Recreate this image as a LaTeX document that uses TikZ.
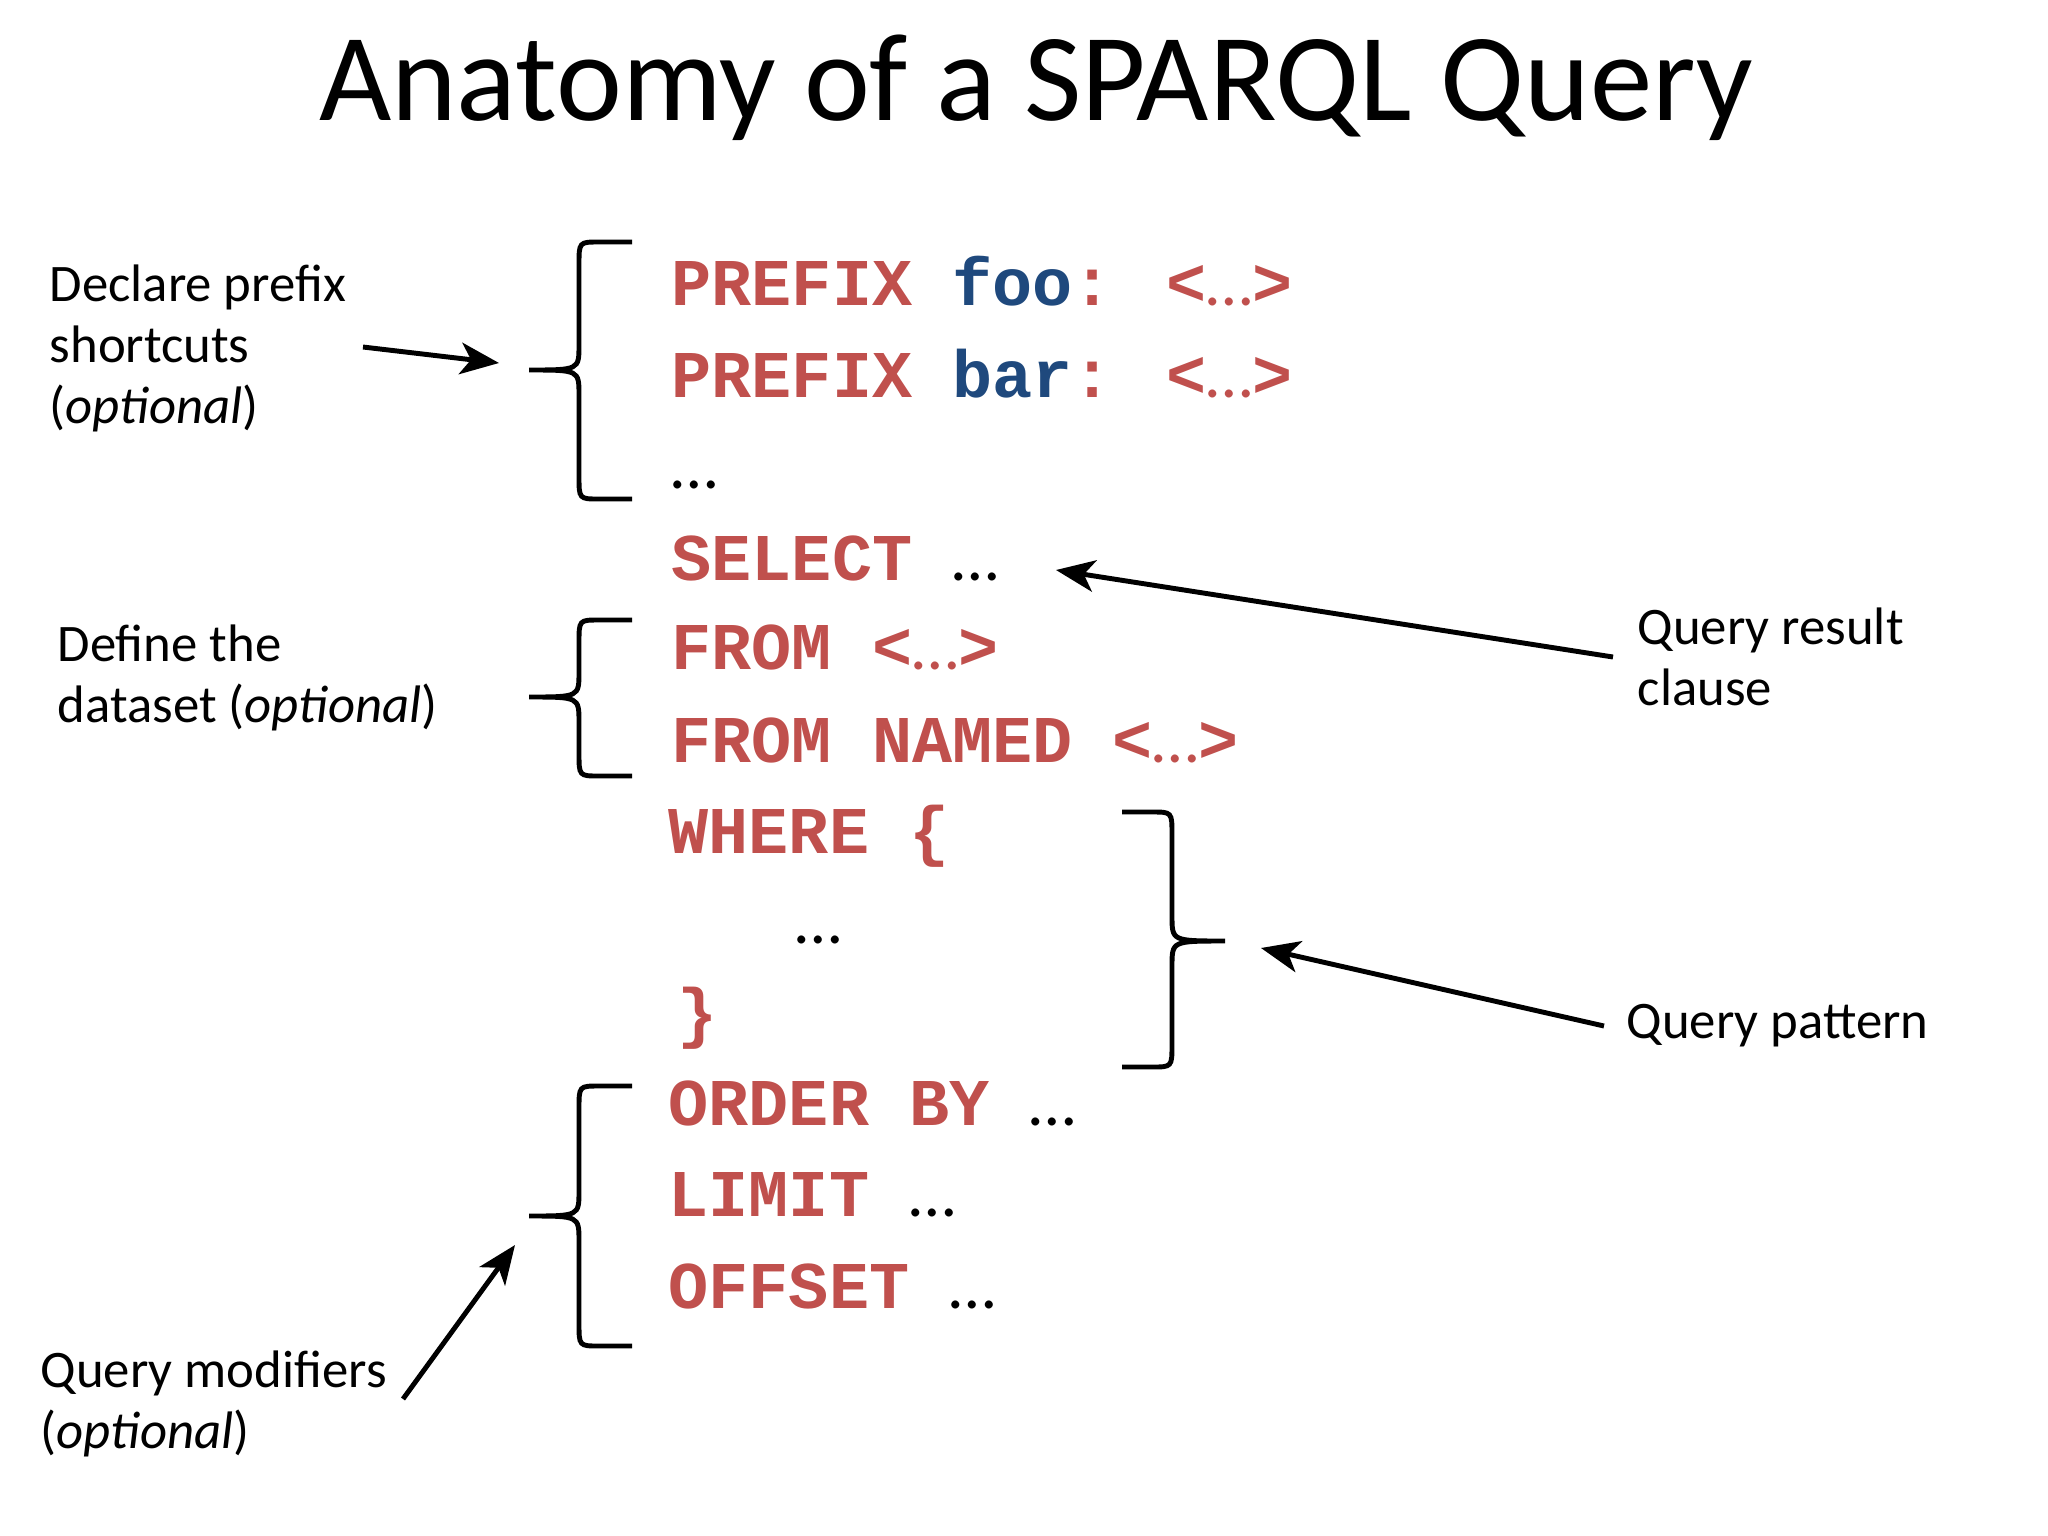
\documentclass[tikz,border=0pt]{standalone}
\usepackage{fontspec}
\setmainfont{Carlito}
\newfontfamily\cmono{Liberation Mono}
\usetikzlibrary{arrows.meta}
\definecolor{kw}{HTML}{C0504D}
\definecolor{pf}{HTML}{1F497D}
\newcommand{\kwd}[1]{{\bfseries\color{kw}#1}}
\newcommand{\pfx}[1]{{\bfseries\color{pf}#1}}
\newcommand{\dts}{{\fontspec{Carlito}\mdseries\ldots}}
\newcommand{\ang}{\kwd{<}{\color{kw}\dts}\kwd{>}}
\begin{document}
\begin{tikzpicture}[x=0.01cm,y=-0.01cm,
  code/.style={anchor=base west,inner sep=0,font=\cmono\fontsize{19}{20}\selectfont},
  lab/.style={anchor=north west,inner sep=0,align=left,font=\fontsize{15}{17.4}\selectfont},
  brace/.style={line width=1.4pt},
  arr/.style={line width=1.4pt,-{Stealth[length=11pt,width=9pt,inset=3pt]}}]
\useasboundingbox (0,0) rectangle (2048,1536);
\node[inner sep=0,anchor=base,font=\fontsize{35.5}{36}\selectfont] (title) at (1036,120) {Anatomy of a SPARQL Query};
% code
\node[code] (l1) at (671,305) {\kwd{PREFIX} \pfx{foo}\kwd{:} \ang};
\node[code] (l2) at (671,397) {\kwd{PREFIX} \pfx{bar}\kwd{:} \ang};
\node[code] (l3) at (671,488) {\dts};
\node[code] (l4) at (671,580) {\kwd{SELECT} \dts};
\node[code] (l5) at (671,669) {\kwd{FROM} \ang};
\node[code] (l6) at (671,762) {\kwd{FROM} \kwd{NAMED} \ang};
\node[code] (l7) at (668,853) {\kwd{WHERE} \kwd{\{}};
\node[code] (l8) at (795,943) {\dts};
\node[code] (l9) at (677,1035) {\kwd{\}}};
\node[code] (l10) at (668,1125) {\kwd{ORDER} \kwd{BY} \dts};
\node[code] (l11) at (668,1216) {\kwd{LIMIT} \dts};
\node[code] (l12) at (668,1308) {\kwd{OFFSET} \dts};
% labels
\node[lab] (a) at (49,264) {Declare prefix\\shortcuts\\(\textit{optional})};
\node[lab] (b) at (57,624) {Define the\\dataset (\textit{optional})};
\node[lab] (c) at (1637,607) {Query result\\clause};
\node[lab] (d) at (1626,1004) {Query pattern};
\node[lab] (e) at (40,1350) {Query modifiers\\(\textit{optional})};
% braces
\coordinate (b1t) at (632,242); \coordinate (b1b) at (632,499); \coordinate (b1m) at (529,370);
\draw[brace] (b1t) -- (599,242) .. controls (579,242) .. (579,265) -- (579,345) .. controls (579,370) .. (b1m)
  (b1m) .. controls (579,370) .. (579,395) -- (579,476) .. controls (579,499) .. (599,499) -- (b1b);
\coordinate (b2t) at (632,620); \coordinate (b2b) at (632,776); \coordinate (b2m) at (529,697);
\draw[brace] (b2t) -- (599,620) .. controls (579,620) .. (579,643) -- (579,672) .. controls (579,697) .. (b2m)
  (b2m) .. controls (579,697) .. (579,722) -- (579,753) .. controls (579,776) .. (599,776) -- (b2b);
\coordinate (b3t) at (632,1086); \coordinate (b3b) at (632,1346); \coordinate (b3m) at (529,1216);
\draw[brace] (b3t) -- (599,1086) .. controls (579,1086) .. (579,1109) -- (579,1191) .. controls (579,1216) .. (b3m)
  (b3m) .. controls (579,1216) .. (579,1241) -- (579,1323) .. controls (579,1346) .. (599,1346) -- (b3b);
\coordinate (b4t) at (1122,812); \coordinate (b4b) at (1122,1067); \coordinate (b4m) at (1225,941);
\draw[brace] (b4t) -- (1152,812) .. controls (1172,812) .. (1172,835) -- (1172,916) .. controls (1172,941) .. (b4m)
  (b4m) .. controls (1172,941) .. (1172,966) -- (1172,1044) .. controls (1172,1067) .. (1152,1067) -- (b4b);
% arrows
\coordinate (a1s) at (363,347); \coordinate (a1e) at (499,363);
\coordinate (a2s) at (1613,657); \coordinate (a2e) at (1056,570);
\coordinate (a3s) at (1604,1026); \coordinate (a3e) at (1261,948);
\coordinate (a4s) at (403,1399); \coordinate (a4e) at (515,1245);
\draw[arr] (a1s) -- (a1e);
\draw[arr] (a2s) -- (a2e);
\draw[arr] (a3s) -- (a3e);
\draw[arr] (a4s) -- (a4e);
\end{tikzpicture}
\end{document}
